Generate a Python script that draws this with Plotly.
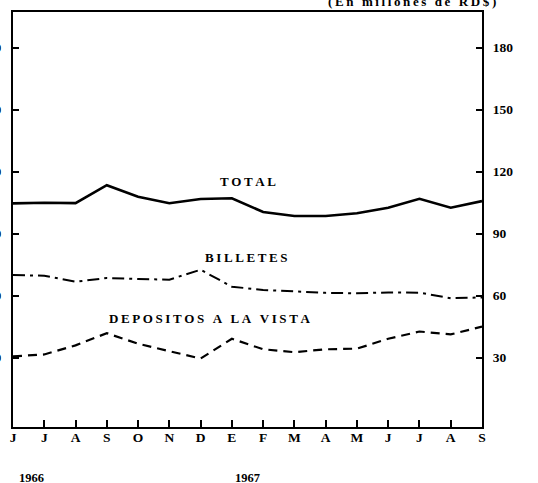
import plotly.graph_objects as go

# Months from June 1966 to September 1967
meses = ["J", "J", "A", "S", "O", "N", "D", "E", "F", "M", "A", "M", "J", "J", "A", "S"]
total = [104.6, 104.9, 104.7, 113.4, 107.8, 104.7, 106.7, 107.1, 100.4, 98.5, 98.5, 99.8, 102.5, 106.8, 102.5, 105.7]
billetes = [69.9, 69.6, 66.7, 68.5, 68.0, 67.7, 72.5, 64.3, 62.7, 62.0, 61.3, 61.1, 61.5, 61.4, 58.7, 59.1]
depositos = [30.6, 31.5, 35.9, 41.8, 36.7, 33.1, 29.5, 39.1, 34.0, 32.6, 34.0, 34.3, 39.1, 42.6, 41.2, 45.0]
y_ticks = [30, 60, 90, 120, 150, 180]

x = list(range(len(meses)))
FONT = "Liberation Serif"


def spaced(s):
    # old print style: wide letter spacing
    return "\u2009\u00a0\u2009".join("\u2009".join(w) for w in s.split(" "))


def bold(size):
    return dict(family=FONT, size=size, color="black", weight="bold")


fig = go.Figure()
fig.add_trace(go.Scatter(x=x, y=total, mode="lines",
                         line=dict(color="black", width=2.6)))
fig.add_trace(go.Scatter(x=x, y=billetes, mode="lines",
                         line=dict(color="black", width=2, dash="12px,5px,3px,5px")))
fig.add_trace(go.Scatter(x=x, y=depositos, mode="lines", yaxis="y2",
                         line=dict(color="black", width=2.2, dash="9px,6px")))

yr = [-3.6, 197.2]
fig.update_layout(
    width=538, height=483,
    margin=dict(l=13, r=56, t=10, b=56),
    paper_bgcolor="white", plot_bgcolor="white",
    showlegend=False,
    font=dict(family=FONT, color="black", size=13),
    xaxis=dict(range=[0, 15], tickvals=x, ticktext=meses, ticks="inside",
               ticklen=7, tickwidth=1.5, tickcolor="black",
               showline=True, linecolor="black", linewidth=2, mirror=True,
               showgrid=False, zeroline=False, ticklabelstandoff=-3,
               tickfont=bold(13.5)),
    yaxis=dict(range=yr, tickvals=y_ticks, ticks="inside", ticklen=6, tickwidth=2,
               tickcolor="black", showline=True, linecolor="black", linewidth=2,
               showgrid=False, zeroline=False, automargin=False, ticklabelstandoff=7,
               tickfont=bold(13.5)),
    yaxis2=dict(range=yr, tickvals=y_ticks, ticks="inside", ticklen=6, tickwidth=2,
                tickcolor="black", overlaying="y", side="right",
                showline=True, linecolor="black", linewidth=2,
                showgrid=False, zeroline=False, ticklabelstandoff=6,
                tickfont=bold(13.5)),
)

ann = [
    dict(text=spaced("TOTAL"), x=7.5, y=115.0),
    dict(text=spaced("BILLETES"), x=7.47, y=78.4),
    dict(text=spaced("DEPOSITOS A LA VISTA"), x=6.3, y=48.7),
]
for a in ann:
    fig.add_annotation(**a, xref="x", yref="y", showarrow=False, font=bold(13))

fig.add_annotation(text="1966", x=0.6, y=-0.144, xref="x", yref="paper", showarrow=False,
                   font=bold(12.5))
fig.add_annotation(text="1967", x=7.5, y=-0.144, xref="x", yref="paper", showarrow=False,
                   font=bold(12.5))
fig.add_annotation(text=spaced("(En millones de RD$)"), x=1.0, y=1.0, xref="paper", yref="paper",
                   xanchor="right", yanchor="bottom", yshift=1, xshift=16, showarrow=False,
                   font=bold(13))

fig.write_html("out.html", config={"displayModeBar": False},
               post_script="document.body.style.margin='0';")
